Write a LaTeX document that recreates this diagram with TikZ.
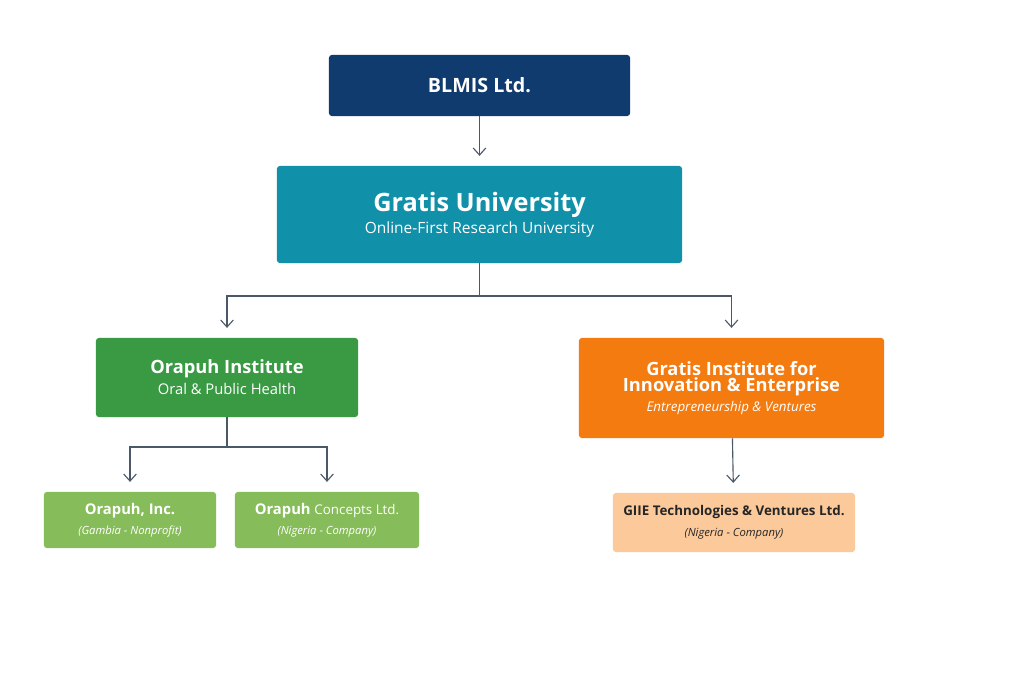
\documentclass[tikz,border=0pt]{standalone}
\usepackage{fontspec}
\setmainfont{Open Sans}
\usetikzlibrary{arrows.meta}
\definecolor{navy}{HTML}{0F3B6E}
\definecolor{teal}{HTML}{1190AA}
\definecolor{green}{HTML}{3A9A44}
\definecolor{orange}{HTML}{F47B10}
\definecolor{lightgreen}{HTML}{86BC5A}
\definecolor{peach}{HTML}{FBC99A}
\definecolor{linegray}{HTML}{4A5868}
\begin{document}
\begin{tikzpicture}
    [
        x=0.025cm, y=-0.025cm,
        box/.style={rectangle, rounded corners=2pt, text centered, align=center, text=white, inner sep=0pt},
        arrow/.style={-{Straight Barb[length=5pt,width=9pt]}, thick, draw=linegray, shorten >=7pt},
        line/.style={thick, draw=linegray}
    ]
    \useasboundingbox (0,0) rectangle (1024,683);
    % Nodes
    \node[box, fill=navy, minimum width=7.525cm, minimum height=1.525cm, font=\fontsize{14}{17}\selectfont\bfseries] (blmis) at (479.5,85.5) {BLMIS Ltd.};
    \node[box, fill=teal, minimum width=10.125cm, minimum height=2.425cm] (gratis) at (479.5,214.5)
        {{\fontsize{18}{24}\selectfont\bfseries Gratis University}\\[2pt]{\fontsize{11}{14}\selectfont Online-First Research University}};
    \node[box, fill=green, minimum width=6.55cm, minimum height=1.975cm] (orapuh) at (227,377.5)
        {{\fontsize{13}{17}\selectfont\bfseries Orapuh Institute}\\[3pt]{\fontsize{10.5}{13}\selectfont Oral \& Public Health}};
    \node[box, fill=orange, minimum width=7.625cm, minimum height=2.5cm] (giie) at (731.5,388)
        {{\fontsize{13}{17}\selectfont\bfseries Gratis Institute for}\\{\fontsize{13}{17}\selectfont\bfseries Innovation \& Enterprise}\\[2pt]{\fontsize{9.5}{12}\selectfont\itshape Entrepreneurship \& Ventures}};
    \node[box, fill=lightgreen, minimum width=4.3cm, minimum height=1.4cm] (inc) at (130,520)
        {{\fontsize{10.5}{13}\selectfont\bfseries Orapuh, Inc.}\\[2pt]{\fontsize{8}{10}\selectfont\itshape (Gambia - Nonprofit)}};
    \node[box, fill=lightgreen, minimum width=4.6cm, minimum height=1.4cm] (concepts) at (327,520)
        {{\fontsize{10.5}{13}\selectfont\bfseries Orapuh \mdseries\fontsize{9.5}{13}\selectfont Concepts Ltd.}\\[2pt]{\fontsize{8}{10}\selectfont\itshape (Nigeria - Company)}};
    \node[box, fill=peach, text=black!85, minimum width=6.05cm, minimum height=1.475cm] (tech) at (734,522.5)
        {{\fontsize{9.5}{12}\selectfont\bfseries GIIE Technologies \& Ventures Ltd.}\\[3pt]{\fontsize{8}{10}\selectfont\itshape (Nigeria - Company)}};
    \coordinate (split) at (479.5,296);
    \coordinate (subsplit) at (227,447);

    % Arrows
    \draw[arrow] (blmis) -- (gratis);
    \draw[line] (gratis) -- (split);
    \draw[arrow] (split) -| (orapuh);
    \draw[arrow] (split) -| (giie);
    \draw[line] (orapuh) -- (subsplit);
    \draw[arrow] (subsplit) -| (inc);
    \draw[arrow] (subsplit) -| (concepts);
    \draw[arrow] (giie) -- (tech);
\end{tikzpicture}
\end{document}
